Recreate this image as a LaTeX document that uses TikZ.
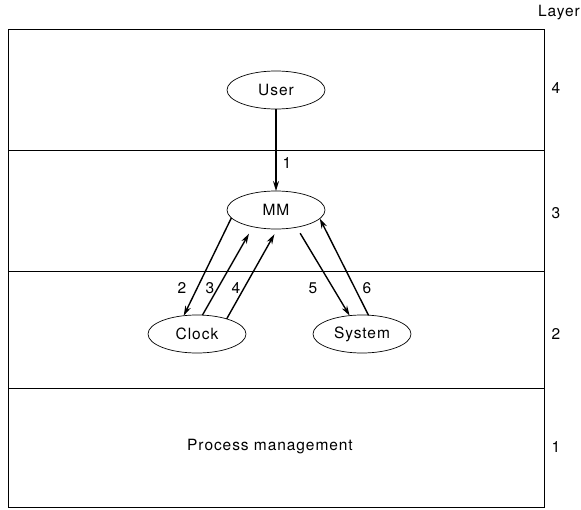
\documentclass[tikz,border=0pt]{standalone}
\usepackage{fontspec}
\setmainfont[LetterSpace=6]{TeX Gyre Heros}
\usetikzlibrary{arrows.meta,shapes.geometric}

\begin{document}
\begin{tikzpicture}[x=1pt,y=-1pt,
  every node/.style={font=\fontsize{15.5}{18}\selectfont},
  layerbox/.style={line width=0.8pt},
  proc/.style={ellipse,draw,line width=0.7pt,minimum width=98pt,minimum height=38pt,inner sep=0pt,outer sep=0pt},
  flow/.style={line width=1.4pt,-{Stealth[length=10pt,width=6pt]}}]
\useasboundingbox (0,0) rectangle (581,509);

% layers
\draw[layerbox] (8,29) rectangle (544,507);
\draw[layerbox] (8,150) -- (544,150);
\draw[layerbox] (8,271) -- (544,271);
\draw[layerbox] (8,388) -- (544,388);

\node[anchor=east,inner sep=1pt] (layer) at (581,13) {Layer};
\node (lay4) at (556,88) {4};
\node (lay3) at (556,213) {3};
\node (lay2) at (556,334) {2};
\node (lay1) at (556,447) {1};

% processes
\node[proc] (user) at (276,90) {User};
\node[proc] (mm) at (276,210) {MM};
\node[proc] (clock) at (197,334) {Clock};
\node[proc] (system) at (362,334) {System};
\node (pm) at (270,447) {Process management};

% messages
\draw[flow] (user) -- (mm);
\draw[flow] (mm.190) -- (clock.126);
\draw[flow,shorten >=8pt] (clock.74) -- (mm.216);
\draw[flow,shorten >=6pt] (clock.27) -- (mm.274);
\draw[flow,shorten <=7pt] (mm.320) -- (system.124);
\draw[flow] (system.71) -- (mm.349);

\node (m1) at (287,163) {1};
\node (m2) at (182,288) {2};
\node (m3) at (210,288) {3};
\node (m4) at (236,288) {4};
\node (m5) at (313,288) {5};
\node (m6) at (367,288) {6};
\end{tikzpicture}
\end{document}
